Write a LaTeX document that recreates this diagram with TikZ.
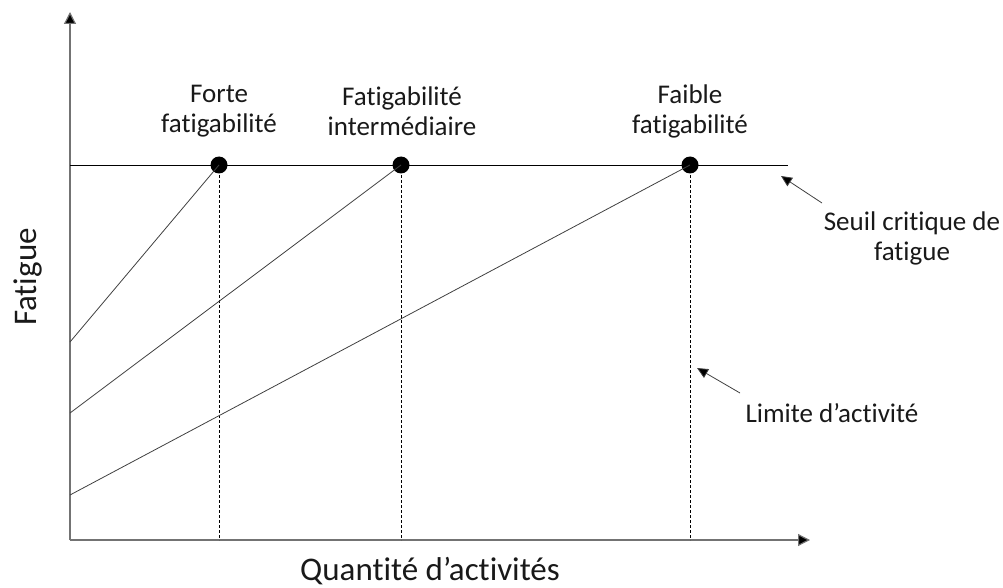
\documentclass[tikz,border=0pt]{standalone}
\usepackage{fontspec}
\setmainfont[Ligatures=NoCommon]{Carlito}
\usetikzlibrary{arrows.meta}
\begin{document}
\begin{tikzpicture}[x=1pt,y=-1pt,
  axis/.style={draw=black!55,line width=1.2pt,-{Triangle[length=12pt,width=12pt,fill=black]}},
  curve/.style={draw=black!75,line width=0.8pt},
  dropline/.style={draw=black,line width=0.7pt,dash pattern=on 3pt off 2pt},
  dot/.style={circle,fill=black,inner sep=0pt,minimum size=17pt},
  lbl/.style={font=\fontsize{27}{30}\selectfont,align=center,text=black!90},
  big/.style={font=\fontsize{33}{36}\selectfont,text=black!90},
  pointer/.style={draw=black!75,line width=0.8pt,-{Triangle[length=11pt,width=10pt,fill=black]}}]
\useasboundingbox (0,0) rectangle (1003,588);
% axes
\coordinate (O) at (70,540);
\coordinate (Ytop) at (70,12);
\coordinate (Xend) at (810,540);
\draw[axis] (O) -- (Ytop);
\draw[axis] (O) -- (Xend);
% threshold
\coordinate (T0) at (70,165);
\coordinate (T1) at (788,165);
\draw[black,line width=0.9pt] (T0) -- (T1);
% dots
\node[dot] (d1) at (219,165) {};
\node[dot] (d2) at (401,165) {};
\node[dot] (d3) at (690,165) {};
% feet
\coordinate (f1) at (219,540);
\coordinate (f2) at (401,540);
\coordinate (f3) at (690,540);
\draw[dropline] (d1.center) -- (f1);
\draw[dropline] (d2.center) -- (f2);
\draw[dropline] (d3.center) -- (f3);
% fatigue curves
\coordinate (s1) at (70,342);
\coordinate (s2) at (70,413);
\coordinate (s3) at (70,495);
\draw[curve] (s1) -- (d1.center);
\draw[curve] (s2) -- (d2.center);
\draw[curve] (s3) -- (d3.center);
% labels
\node[lbl] (l1) at (219,111) {Forte\\fatigabilité};
\node[lbl] (l2) at (402,111) {Fatigabilité\\intermédiaire};
\node[lbl] (l3) at (690,111) {Faible\\fatigabilité};
\node[lbl] (seuil) at (912,238) {Seuil critique de\\fatigue};
\node[lbl] (limite) at (832,413) {Limite d’activité};
\coordinate (p1) at (781,176);
\coordinate (p2) at (697,368);
\draw[pointer] (822,203) coordinate (q1) -- (p1);
\draw[pointer] (740,393) coordinate (q2) -- (p2);
\node[big,rotate=90] (ylab) at (28,277) {Fatigue};
\node[big] (xlab) at (430,571) {Quantité d’activités};
\end{tikzpicture}
\end{document}
